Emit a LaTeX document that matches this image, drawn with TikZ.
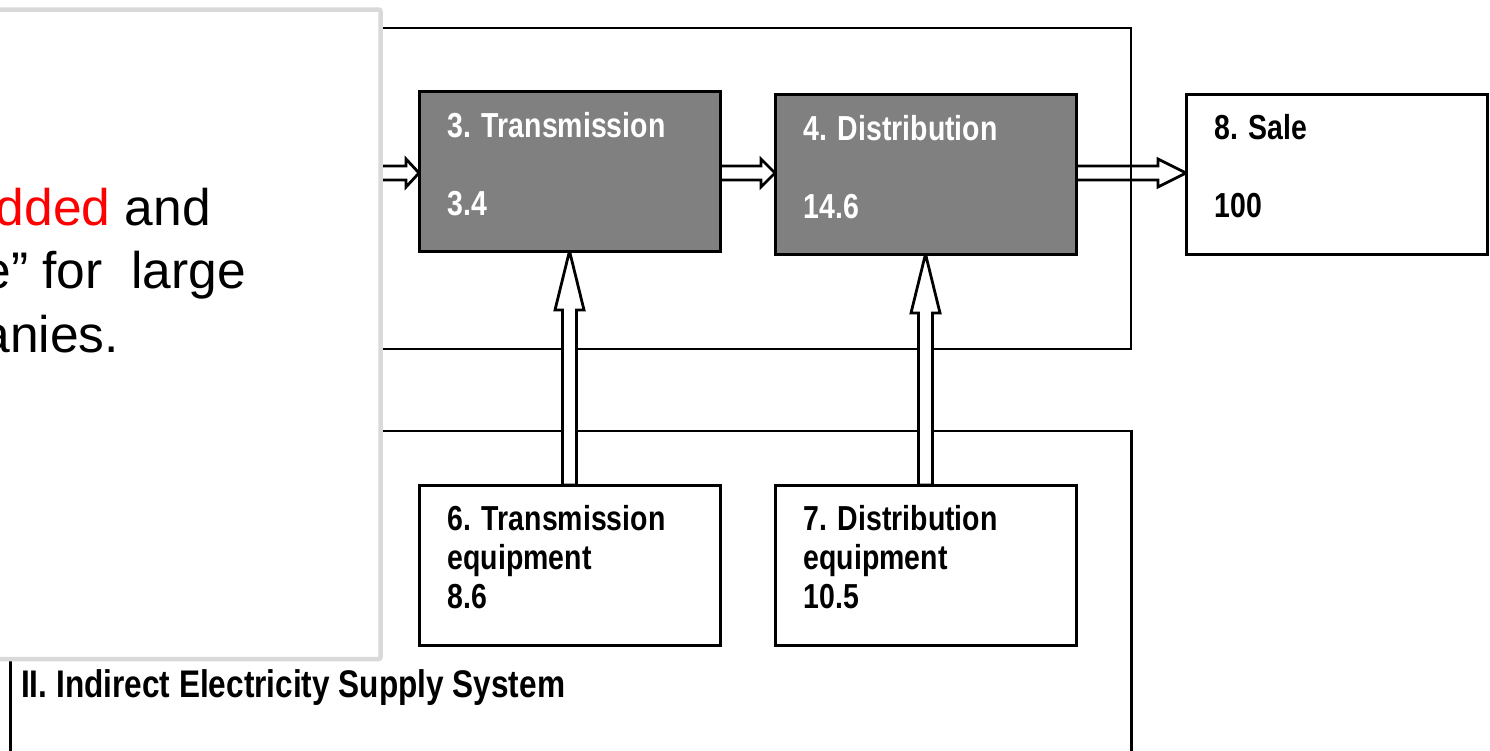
\documentclass[tikz,border=0pt]{standalone}
\usepackage{fontspec}
\setmainfont{Liberation Sans}
\newfontfamily\narrowfont[FakeStretch=0.82]{Liberation Sans}
\usetikzlibrary{calc}
\definecolor{stagegray}{HTML}{808080}
\definecolor{framegray}{HTML}{D9D9D9}

% hollow block arrow pointing right: tail point, tip point, head length
\newcommand\hblockarrow[3]{%
  \draw[blockarrow] let \p1=#1, \p2=#2 in
    (\x1,\y2+7pt) -- (\x2-#3,\y2+7pt) -- (\x2-#3,\y2+14pt) -- (\x2,\y2)
    -- (\x2-#3,\y2-14pt) -- (\x2-#3,\y2-7pt) -- (\x1,\y2-7pt) -- cycle;}
% hollow block arrow pointing up, filled white
\newcommand\vblockarrow[3]{%
  \draw[blockarrow, fill=white] let \p1=#1, \p2=#2 in
    (\x2+7pt,\y1) -- (\x2+7pt,\y2-#3) -- (\x2+14.5pt,\y2-#3) -- (\x2,\y2)
    -- (\x2-14.5pt,\y2-#3) -- (\x2-7pt,\y2-#3) -- (\x2-7pt,\y1) -- cycle;}

\begin{document}
\begin{tikzpicture}[x=1pt,y=-1pt,
  sysframe/.style={draw=black, line width=2.9pt},
  blockarrow/.style={draw=black, line width=2.8pt},
  stagebox/.style={draw=black, line width=3pt, minimum width=301pt,
    minimum height=160pt, inner sep=0pt, outer sep=0pt, anchor=north west},
  darkstage/.style={stagebox, fill=stagegray},
  lightstage/.style={stagebox, fill=white},
  lbl/.style={font=\narrowfont\bfseries\fontsize{34.7}{39}\selectfont,
    align=left, inner sep=0pt, anchor=base west},
  ovl/.style={font=\fontsize{51.5}{62}\selectfont, inner sep=0pt, anchor=base east}]

\useasboundingbox (0,0) rectangle (1490,750);
\clip (0,0) rectangle (1490,750);
\fill[white] (0,0) rectangle (1490,750);

% system frames
\draw[sysframe] (10.5,28) rectangle (1131,349);
\draw[sysframe] (10.5,431) rectangle (1131.5,770);

% stage boxes
\node[darkstage]  (t3) at (419,91)  {};
\node[darkstage]  (t4) at (775,94)  {};
\node[lightstage] (t8) at (1186,94) {};
\node[lightstage] (t6) at (419,485) {};
\node[lightstage] (t7) at (775,485) {};

\coordinate (row)  at (0,173);
\coordinate (feed) at (300,173);

% flows
\vblockarrow{(t6.north)}{(t3.south)}{59pt}
\vblockarrow{(t7.north)}{(t4.south)}{59pt}
\hblockarrow{(feed)}{(t3.west |- row)}{13pt}
\hblockarrow{(t3.east)}{(t4.west |- row)}{14pt}
\hblockarrow{(t4.east)}{(t8.west |- row)}{28pt}

% box borders again, over the arrow tips
\node[darkstage]  at (419,91)  {};
\node[darkstage]  at (775,94)  {};
\node[lightstage] at (1186,94) {};
\node[lightstage] at (419,485) {};
\node[lightstage] at (775,485) {};

% box texts (anchored on the baseline of the last line)
\node[lbl, text=white] (l3) at ($(t3.north west)+(28.5,124)$) {3. Transmission\\[39pt]3.4};
\node[lbl, text=white] (l4) at ($(t4.north west)+(28.5,124)$) {4. Distribution\\[39pt]14.6};
\node[lbl] (l8) at ($(t8.north west)+(28.5,123)$) {8. Sale\\[39pt]100};
\node[lbl] (l6) at ($(t6.north west)+(28.5,123)$) {6. Transmission\\equipment\\8.6};
\node[lbl] (l7) at ($(t7.north west)+(28.5,123)$) {7. Distribution\\equipment\\10.5};

\node[lbl, font=\narrowfont\bfseries\fontsize{38.5}{44}\selectfont] (sys2) at (21,697)
  {II. Indirect Electricity Supply System};

% overlay panel
\draw[framegray, line width=4.5pt, fill=white, rounded corners=2pt] (-20,9.5) rectangle (380.5,659);
\node[ovl] (ln1) at (211,225)   {\textcolor{red}{dded} and};
\node[ovl] (ln2) at (246,288)   {e\textquotedblright{} for~ large};
\node[ovl] (ln3) at (119,352.5) {anies.};
\end{tikzpicture}
\end{document}
